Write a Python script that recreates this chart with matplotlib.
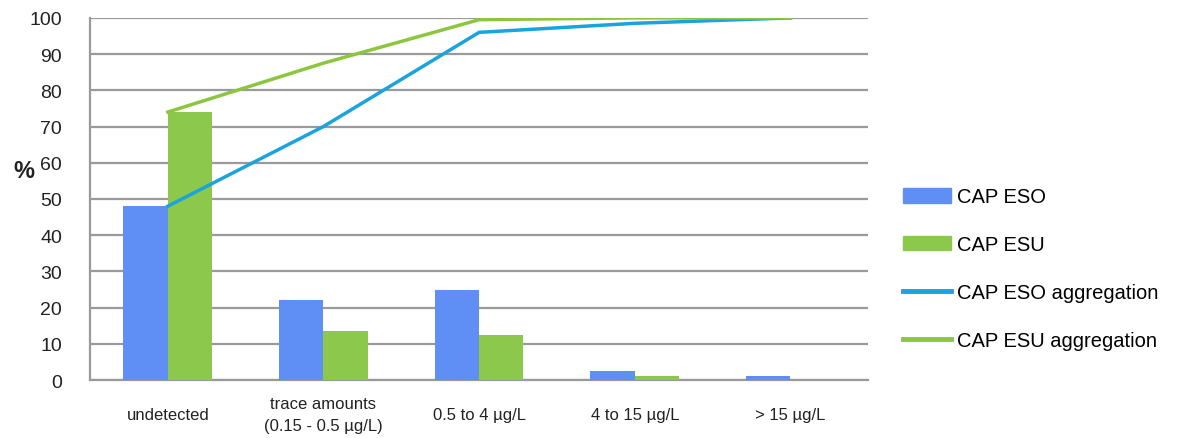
import matplotlib.pyplot as plt
import numpy as np
from matplotlib.patches import Patch
from matplotlib.lines import Line2D

categories = ["undetected", "trace amounts\n(0.15 - 0.5 µg/L)", "0.5 to 4 µg/L",
              "4 to 15 µg/L", "> 15 µg/L"]
eso = [48, 22, 25, 2.5, 1]
esu = [74, 13.5, 12.5, 1, 0]
eso_agg = [48, 70, 96, 98.5, 100]
esu_agg = [74, 87.5, 99.5, 100, 100]

blue_bar = "#5f8ff5"
green_bar = "#8cc84b"
blue_line = "#1ba3dd"
green_line = "#8cc63f"

plt.rcParams['font.family'] = ['Liberation Sans', 'DejaVu Sans']

fig = plt.figure(figsize=(11.81, 4.39), dpi=100)
ax = fig.add_axes([0.0762, 0.132, 0.659, 0.825])

x = np.arange(len(categories))
w = 0.285
ax.bar(x - w / 2, eso, w, color=blue_bar, zorder=3)
ax.bar(x + w / 2, esu, w, color=green_bar, zorder=3)
ax.plot(x, eso_agg, color=blue_line, lw=2.5, zorder=4)
ax.plot(x, esu_agg, color=green_line, lw=2.5, zorder=4)

ax.set_xlim(-0.5, len(categories) - 0.5)
ax.set_ylim(0, 100)
ax.set_yticks(range(0, 101, 10))
ax.yaxis.grid(True, color="#9a9a9a", lw=1.6, zorder=0)
ax.set_axisbelow(True)
for s in ["top", "right"]:
    ax.spines[s].set_visible(False)
ax.spines["left"].set_color("#9a9a9a")
ax.spines["left"].set_linewidth(1.6)
ax.spines["bottom"].set_color("#9a9a9a")
ax.spines["bottom"].set_linewidth(1.6)
ax.tick_params(axis="y", length=0, pad=20, labelsize=14, labelcolor="#222222")
ax.tick_params(axis="x", length=0, pad=25, labelsize=12, labelcolor="#222222")
ax.set_xticks(x)
ax.set_xticklabels(categories, va="center", linespacing=1.55)

fig.text(0.011, 0.61, "%", fontsize=17, fontweight="bold", color="#222222",
         va="center")

handles = [Patch(color=blue_bar), Patch(color=green_bar),
           Line2D([], [], color=blue_line, lw=3.5), Line2D([], [], color=green_line, lw=3.5)]
labels = ["CAP ESO", "CAP ESU", "CAP ESO aggregation", "CAP ESU aggregation"]
fig.legend(handles, labels, loc="upper left", bbox_to_anchor=(0.7646, 0.571),
           frameon=False, fontsize=14.5, handlelength=2.4, handleheight=0.75,
           labelspacing=1.43, handletextpad=0.3, borderpad=0, borderaxespad=0)

fig.savefig("out.png", dpi=100)
